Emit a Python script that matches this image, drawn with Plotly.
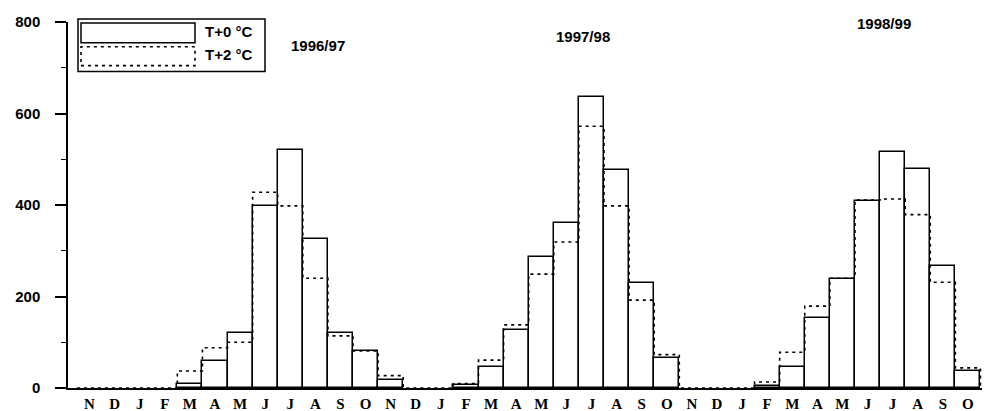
import plotly.graph_objects as go

# ---- data ----
months = ["N", "D", "J", "F", "M", "A", "M", "J", "J", "A", "S", "O"] * 3
t0 = [0, 0, 0, 0, 9, 60, 120, 398, 521, 326, 121, 80,
      18, 0, 0, 6, 45, 126, 286, 361, 635, 477, 229, 66,
      0, 0, 0, 4, 46, 152, 239, 409, 515, 478, 266, 38]
t2 = [0, 0, 0, 0, 37, 88, 100, 428, 398, 240, 114, 81,
      27, 0, 0, 10, 61, 138, 249, 319, 572, 398, 192, 73,
      0, 0, 0, 13, 78, 179, 240, 411, 413, 379, 231, 44]
season_labels = ["1996/97", "1997/98", "1998/99"]
legend_labels = ["T+0 °C", "T+2 °C"]
y_ticks = [0, 200, 400, 600, 800]

idx = list(range(len(months)))

# step outline for the dotted series, built from the values
sx, sy = [], []
for i, v in enumerate(t2):
    sx += [i - 0.5, i + 0.5]
    sy += [v, v]
sx = [-0.5] + sx + [len(t2) - 0.5]
sy = [0] + sy + [0]

W, H = 990, 411
L, R, T, B = 60, 5, 11, 31
pw, ph = W - L - R, H - T - B


def px(x):
    return (x - L) / pw


def py(y):
    return (H - B - y) / ph


bar_line_w = [1.5 if v > 0 else 0 for v in t0]

fig = go.Figure()
fig.add_trace(go.Bar(
    x=idx, y=t0, width=1, name=legend_labels[0],
    marker=dict(color="white", line=dict(color="black", width=bar_line_w)),
    showlegend=False, hoverinfo="y"))
fig.add_trace(go.Scatter(
    x=sx, y=sy, mode="lines", name=legend_labels[1],
    line=dict(color="black", width=1.6, dash="3px,4px"),
    showlegend=False, hoverinfo="skip"))

shapes = [
    # legend frame
    dict(type="rect", xref="paper", yref="paper",
         x0=px(70), x1=px(257), y0=py(61), y1=py(8),
         line=dict(color="black", width=1.5), fillcolor="rgba(0,0,0,0)"),
    # solid sample
    dict(type="rect", xref="paper", yref="paper",
         x0=px(73), x1=px(187), y0=py(32), y1=py(12),
         line=dict(color="black", width=1.5), fillcolor="rgba(0,0,0,0)"),
    # dotted sample
    dict(type="rect", xref="paper", yref="paper",
         x0=px(73), x1=px(187), y0=py(55), y1=py(36),
         line=dict(color="black", width=1.6, dash="3px,4px"),
         fillcolor="rgba(0,0,0,0)"),
]

txt_font = dict(family="Liberation Sans", size=15, color="black", weight="bold")
annotations = [
    dict(text=legend_labels[0], x=px(195), y=py(21), xref="paper", yref="paper",
         xanchor="left", yanchor="middle", showarrow=False, font=txt_font),
    dict(text=legend_labels[1], x=px(195), y=py(44), xref="paper", yref="paper",
         xanchor="left", yanchor="middle", showarrow=False, font=txt_font),
]
for lab, (cx, cy) in zip(season_labels, [(310, 35), (575, 26), (876, 13)]):
    annotations.append(dict(text=lab, x=px(cx), y=py(cy), xref="paper", yref="paper",
                            xanchor="center", yanchor="middle", showarrow=False,
                            font=txt_font))

fig.update_layout(
    width=W, height=H,
    margin=dict(l=L, r=R, t=T, b=B, pad=0),
    plot_bgcolor="white", paper_bgcolor="white",
    barmode="overlay", bargap=0,
    shapes=shapes, annotations=annotations,
    showlegend=False,
)
fig.update_xaxes(
    range=[-0.857, 36.0],
    tickmode="array", tickvals=idx, ticktext=months,
    showline=True, linecolor="black", linewidth=1.5,
    ticks="", showgrid=False, zeroline=False,
    tickfont=dict(family="Liberation Serif", size=15, color="black", weight="bold"),
    ticklabelstandoff=1,
)
fig.update_yaxes(
    range=[0, 800],
    tickmode="array", tickvals=y_ticks,
    showline=True, linecolor="black", linewidth=1.5,
    ticks="outside", ticklen=11, tickwidth=1.5, tickcolor="black",
    minor=dict(tickvals=[100, 300, 500, 700], ticks="outside", ticklen=5,
               tickwidth=1, tickcolor="black"),
    showgrid=False, zeroline=False,
    tickfont=txt_font,
    ticklabelstandoff=12,
)

fig.write_html("out.html")
